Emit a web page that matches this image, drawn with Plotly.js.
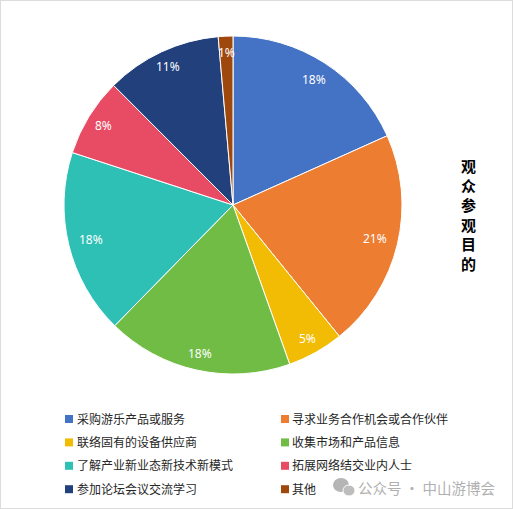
<!DOCTYPE html>
<html><head><meta charset="utf-8">
<script src="https://cdn.plot.ly/plotly-3.0.1.min.js"></script>
<style>html,body{margin:0;padding:0;background:#fff}#c{width:513px;height:509px}</style></head>
<body><div id="c"></div>
<script>
const categories=["采购游乐产品或服务","寻求业务合作机会或合作伙伴","联络固有的设备供应商","收集市场和产品信息","了解产业新业态新技术新模式","拓展网络结交业内人士","参加论坛会议交流学习","其他"];
const values=[18.3,20.9,5.4,17.8,17.7,7.5,11.1,1.4];
const pctLabels=["18%","21%","5%","18%","18%","8%","11%","1%"];
const colors=["#4472C4","#ED7D31","#F2BC05","#70BC45","#2EC0B4","#E84C64","#21407C","#9E480E"];
const W=513,H=509;
const px=x=>x/W, py=y=>1-y/H;
const font='"Noto Sans CJK SC","Liberation Sans",sans-serif';
const labelRadii=[149,146,153,152,146,152,153,153];
const annotations=[], shapes=[];
const total=values.reduce((a,b)=>a+b,0);
let acc=0;
values.forEach((v,i)=>{
  const mid=(acc+v/2)/total*2*Math.PI; acc+=v;
  annotations.push({text:pctLabels[i],xref:'paper',yref:'paper',showarrow:false,
    x:px(233+labelRadii[i]*Math.sin(mid)),y:py(205-labelRadii[i]*Math.cos(mid)),xanchor:'center',yanchor:'middle',
    font:{size:12,family:'"Noto Sans",sans-serif',color:'#fff'}});
});
const swatchX=[65,281], legendTextX=[75,290];
categories.forEach((c,i)=>{
  const col=i%2,row=Math.floor(i/2);
  const ly=419+row*23.4;
  shapes.push({type:'rect',xref:'paper',yref:'paper',x0:px(swatchX[col]),x1:px(swatchX[col]+8),y0:py(ly+4),y1:py(ly-4),fillcolor:colors[i],line:{width:0}});
  annotations.push({text:c,xref:'paper',yref:'paper',x:px(legendTextX[col]),y:py(ly-1),showarrow:false,xanchor:'left',yanchor:'middle',
    font:{size:12,family:font,color:'#262626'}});
});
annotations.push(
  {text:'观<br>众<br>参<br>观<br>目<br>的',xref:'paper',yref:'paper',x:px(468),y:py(214),showarrow:false,
   font:{size:15,family:font,color:'#000',weight:700},align:'center',xanchor:'center',yanchor:'middle'},
  {text:'公众号 · 中山游博会',xref:'paper',yref:'paper',x:px(497),y:py(487.5),showarrow:false,xanchor:'right',yanchor:'middle',
   font:{size:14.5,family:font,color:'#b0b0b0'}}
);
shapes.push(
  {type:'circle',xref:'paper',yref:'paper',x0:px(333),x1:px(349),y0:py(492),y1:py(478),fillcolor:'#b5b5b5',line:{width:0},layer:'above'},
  {type:'circle',xref:'paper',yref:'paper',x0:px(343),x1:px(355),y0:py(496),y1:py(485),fillcolor:'#bdbdbd',line:{color:'#fff',width:1},layer:'above'},
  {type:'rect',xref:'paper',yref:'paper',x0:0,x1:1,y0:0,y1:1,fillcolor:'rgba(0,0,0,0)',line:{color:'#dcdcdc',width:2},layer:'above'}
);
Plotly.newPlot('c',[{type:'pie',labels:categories,values:values,textinfo:'none',
 sort:false,direction:'clockwise',rotation:0,
 marker:{colors:colors,line:{color:'#ffffff',width:1}},
 domain:{x:[px(64),px(402)],y:[py(374),py(36)]},hoverinfo:'label+percent'}],
{width:W,height:H,margin:{l:0,r:0,t:0,b:0},paper_bgcolor:'#fff',showlegend:false,annotations,shapes},{staticPlot:true});
</script></body></html>
